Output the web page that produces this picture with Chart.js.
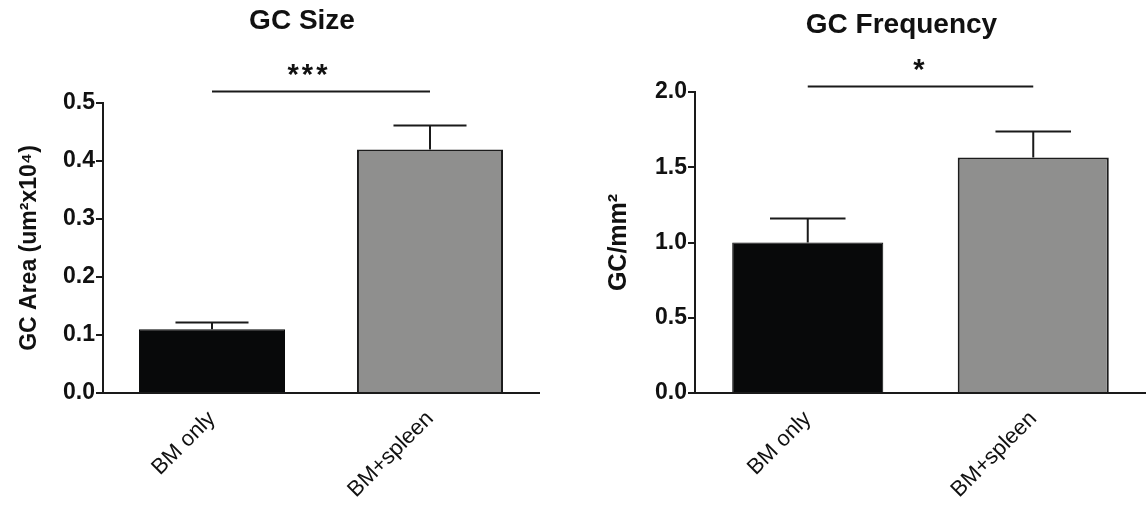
<!DOCTYPE html>
<html>
<head>
<meta charset="utf-8">
<script src="https://cdn.jsdelivr.net/npm/chart.js@4.4.1/dist/chart.umd.min.js"></script>
<style>
    html, body { margin: 0; padding: 0; background: #ffffff; }
    #wrap { position: relative; width: 1146px; height: 510px; overflow: hidden; }
    #wrap canvas { position: absolute; top: 0; }
    #sizeChart { left: 0; }
    #freqChart { left: 573px; }
</style>
</head>
<body>
<div id="wrap">
    <canvas id="sizeChart" width="573" height="510"></canvas>
    <canvas id="freqChart" width="573" height="510"></canvas>
</div>
<script>
// Datos
const groups = ['BM only', 'BM+spleen'];

const sizeMeans = [0.11, 0.42];
const sizeSem = [0.012, 0.042];
const sizeTicks = [0.0, 0.1, 0.2, 0.3, 0.4, 0.5];
const sizeSigLabel = '***';
const sizeSigLevel = 0.52;

const freqMeans = [1.0, 1.565];
const freqSem = [0.165, 0.177];
const freqTicks = [0.0, 0.5, 1.0, 1.5, 2.0];
const freqSigLabel = '*';
const freqSigLevel = 2.04;

const barColors = ['#08090a', '#8f8f8e'];
const barBorders = ['#08090a', '#1c1c1c'];
const inkColor = '#1a1a1a';
const fontFamily = '"Liberation Sans", Arial, Helvetica, sans-serif';

// Barras de error, línea de significancia y título del panel
const annotatePlugin = {
    id: 'annotate',
    afterDatasetsDraw(chart, args, opts) {
        const ctx = chart.ctx;
        const meta = chart.getDatasetMeta(0);
        const yScale = chart.scales.y;
        const xScale = chart.scales.x;
        const values = chart.data.datasets[0].data;

        ctx.save();
        ctx.strokeStyle = inkColor;
        ctx.lineWidth = 2;
        meta.data.forEach((bar, i) => {
            const tip = Math.round(yScale.getPixelForValue(values[i] + opts.errors[i])) + 0.5;
            const half = bar.width / 4;
            ctx.beginPath();
            ctx.moveTo(bar.x, bar.y);
            ctx.lineTo(bar.x, tip);
            ctx.moveTo(bar.x - half, tip);
            ctx.lineTo(bar.x + half, tip);
            ctx.stroke();
        });

        // significancia
        const sy = Math.round(yScale.getPixelForValue(opts.sigLevel)) + 0.5;
        const x0 = xScale.getPixelForValue(0);
        const x1 = xScale.getPixelForValue(1);
        ctx.beginPath();
        ctx.moveTo(x0, sy);
        ctx.lineTo(x1, sy);
        ctx.stroke();
        ctx.fillStyle = '#111111';
        ctx.font = 'bold 29px ' + fontFamily;
        ctx.letterSpacing = '3px';
        ctx.textAlign = 'center';
        ctx.textBaseline = 'alphabetic';
        ctx.fillText(opts.sigLabel, (x0 + x1) / 2 + opts.sigShift, sy - 8);
        ctx.letterSpacing = '0px';

        // título
        ctx.font = 'bold 28px ' + fontFamily;
        ctx.textBaseline = 'middle';
        const cx = (chart.chartArea.left + chart.chartArea.right) / 2 + opts.titleShift;
        ctx.fillText(opts.title, cx, opts.titleY);
        ctx.restore();
    }
};

function buildChart(canvasId, means, sem, ticks, cfg) {
    const ctx = document.getElementById(canvasId).getContext('2d');

    return new Chart(ctx, {
        type: 'bar',
        data: {
            labels: groups,
            datasets: [{
                data: means,
                backgroundColor: barColors,
                borderColor: barBorders,
                borderWidth: [1, 2],
                borderSkipped: 'bottom',
                categoryPercentage: 1.0,
                barPercentage: 0.67
            }]
        },
        options: {
            responsive: false,
            animation: false,
            layout: {
                padding: { top: cfg.top, right: cfg.right, bottom: 0, left: 0 }
            },
            plugins: {
                legend: { display: false },
                tooltip: { enabled: false },
                title: { display: false },
                annotate: {
                    errors: sem,
                    sigLabel: cfg.sigLabel,
                    sigLevel: cfg.sigLevel,
                    sigShift: cfg.sigShift,
                    title: cfg.title,
                    titleY: cfg.titleY,
                    titleShift: cfg.titleShift
                }
            },
            scales: {
                x: {
                    offset: true,
                    grid: { display: false, drawTicks: false },
                    border: { display: true, color: inkColor, width: 2 },
                    ticks: {
                        minRotation: 45,
                        maxRotation: 45,
                        padding: 13,
                        color: '#111111',
                        font: { family: fontFamily, size: 22 }
                    },
                    afterFit(scale) { scale.height = 117; }
                },
                y: {
                    min: ticks[0],
                    max: ticks[ticks.length - 1],
                    grid: {
                        drawOnChartArea: false,
                        drawTicks: true,
                        tickLength: 7,
                        color: inkColor,
                        lineWidth: 2
                    },
                    border: { display: true, color: inkColor, width: 2 },
                    ticks: {
                        padding: 1,
                        color: '#111111',
                        font: { family: fontFamily, size: 23, weight: 'bold' },
                        callback: value => Number(value).toFixed(1)
                    },
                    afterBuildTicks(scale) {
                        scale.ticks = ticks.map(v => ({ value: v }));
                    },
                    title: {
                        display: true,
                        text: cfg.yTitle,
                        color: '#111111',
                        font: { family: fontFamily, size: cfg.yTitleSize, weight: 'bold' },
                        padding: { top: cfg.yTitlePad, bottom: 0 }
                    },
                    afterFit(scale) { scale.width = cfg.axisWidth; }
                }
            }
        },
        plugins: [annotatePlugin]
    });
}

function initCharts() {
    buildChart('sizeChart', sizeMeans, sizeSem, sizeTicks, {
        title: 'GC Size',
        titleY: 21,
        titleShift: -19,
        yTitle: 'GC Area (um²x10⁴)',
        yTitleSize: 23,
        yTitlePad: 16,
        sigLabel: sizeSigLabel,
        sigLevel: sizeSigLevel,
        sigShift: -12,
        top: 103,
        right: 34,
        axisWidth: 103
    });

    buildChart('freqChart', freqMeans, freqSem, freqTicks, {
        title: 'GC Frequency',
        titleY: 25,
        titleShift: -19,
        yTitle: 'GC/mm²',
        yTitleSize: 25,
        yTitlePad: 31,
        sigLabel: freqSigLabel,
        sigLevel: freqSigLevel,
        sigShift: 0,
        top: 92,
        right: 0,
        axisWidth: 122
    });
}

document.addEventListener('DOMContentLoaded', initCharts);
</script>
</body>
</html>
